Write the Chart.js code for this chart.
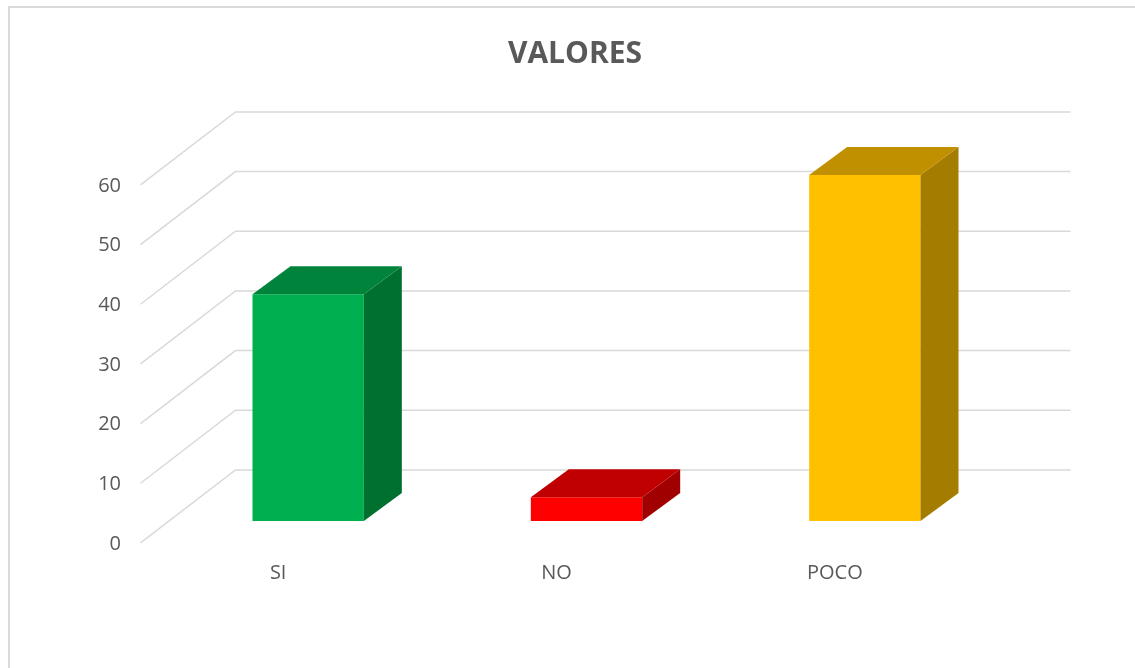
<!DOCTYPE html>
<html>
<head>
<meta charset="utf-8">
<title>VALORES</title>
<script src="https://cdn.jsdelivr.net/npm/chart.js@4.4.1/dist/chart.umd.min.js"></script>
<style>
  html, body { margin: 0; padding: 0; background: #fff; overflow: hidden; }
  canvas { display: block; }
</style>
</head>
<body>
<canvas id="valoresChart" width="1135" height="668"></canvas>
<script>
// Chart data
const categories = ['SI', 'NO', 'POCO'];
const valores = [38, 4, 58];
const yMax = 60;
const yStep = 10;

// Face colours of each bar (front / top / side)
const frontColors = ['#00B050', '#FF0000', '#FFC000'];
const topColors = ['#00843C', '#C00000', '#C09000'];
const sideColors = ['#00702F', '#A00000', '#A37C00'];

// 3D projection: full depth of the floor and depth of the bars (px)
const depth = { dx: 95, dy: -73 };
const barFrontAt = 0.3;   // bar front faces sit 30% into the floor
const barDepth = { dx: 38, dy: -28 };

const gridColor = '#D9D9D9';
const textColor = '#595959';

// Light frame around the chart
const framePlugin = {
    id: 'frame',
    beforeDraw(chart) {
        const ctx = chart.ctx;
        ctx.save();
        ctx.strokeStyle = gridColor;
        ctx.lineWidth = 2;
        ctx.strokeRect(9, 7, 1300, 800);
        ctx.restore();
    }
};

// Back wall and side wall gridlines, drawn from the y scale
const wallsPlugin = {
    id: 'walls',
    beforeDatasetsDraw(chart) {
        const ctx = chart.ctx;
        const yScale = chart.scales.y;
        const area = chart.chartArea;
        const fx = -depth.dx * barFrontAt, fy = -depth.dy * barFrontAt;
        const bx = depth.dx * (1 - barFrontAt), by = depth.dy * (1 - barFrontAt);
        ctx.save();
        ctx.strokeStyle = gridColor;
        ctx.lineWidth = 1.5;
        yScale.ticks.forEach(t => {
            const py = yScale.getPixelForValue(t.value);
            ctx.beginPath();
            ctx.moveTo(area.left + fx, py + fy);
            ctx.lineTo(area.left + bx, py + by);
            ctx.lineTo(area.right + bx, py + by);
            ctx.stroke();
        });
        ctx.restore();
    }
};

// Top and side faces of the bars
const boxPlugin = {
    id: 'box3d',
    afterDatasetsDraw(chart) {
        const ctx = chart.ctx;
        const meta = chart.getDatasetMeta(0);
        ctx.save();
        meta.data.forEach((bar, i) => {
            const left = bar.x - bar.width / 2;
            const right = bar.x + bar.width / 2;
            const top = bar.y;
            const base = bar.base;
            // side
            ctx.fillStyle = sideColors[i];
            ctx.beginPath();
            ctx.moveTo(right, top);
            ctx.lineTo(right + barDepth.dx, top + barDepth.dy);
            ctx.lineTo(right + barDepth.dx, base + barDepth.dy);
            ctx.lineTo(right, base);
            ctx.closePath();
            ctx.fill();
            // top
            ctx.fillStyle = topColors[i];
            ctx.beginPath();
            ctx.moveTo(left, top);
            ctx.lineTo(right, top);
            ctx.lineTo(right + barDepth.dx, top + barDepth.dy);
            ctx.lineTo(left + barDepth.dx, top + barDepth.dy);
            ctx.closePath();
            ctx.fill();
        });
        ctx.restore();
    }
};

const valoresCanvas = document.getElementById('valoresChart').getContext('2d');

new Chart(valoresCanvas, {
    type: 'bar',
    data: {
        labels: categories,
        datasets: [{
            label: 'VALORES',
            data: valores,
            backgroundColor: frontColors,
            borderWidth: 0,
            barPercentage: 0.4,
            categoryPercentage: 1
        }]
    },
    options: {
        responsive: false,
        animation: false,
        devicePixelRatio: 1,
        layout: {
            padding: { left: 15, right: 0, top: 0, bottom: 0 }
        },
        plugins: {
            legend: { display: false },
            tooltip: { enabled: false },
            title: {
                display: true,
                text: 'VALORES',
                color: textColor,
                font: { family: 'Open Sans', size: 30, weight: 'bold' },
                padding: { top: 36, bottom: 91 }
            }
        },
        scales: {
            x: {
                grid: { display: false, drawTicks: false },
                border: { display: false },
                ticks: {
                    color: textColor,
                    font: { family: 'Open Sans', size: 20 },
                    padding: 40,
                    labelOffset: -30,
                    maxRotation: 0
                },
                afterFit(scale) { scale.height = 147; }
            },
            y: {
                min: 0,
                max: yMax,
                grid: { display: false, drawTicks: false },
                border: { display: false },
                ticks: {
                    stepSize: yStep,
                    color: textColor,
                    font: { family: 'Open Sans', size: 20 },
                    padding: 48,
                    labelOffset: 23
                },
                afterFit(scale) { scale.width = 154; }
            },
            // empty right axis, only reserves the space right of the floor
            yRight: {
                position: 'right',
                display: true,
                grid: { display: false, drawTicks: false },
                border: { display: false },
                ticks: { display: false },
                afterFit(scale) { scale.width = 131; }
            }
        }
    },
    plugins: [framePlugin, wallsPlugin, boxPlugin]
});
</script>
</body>
</html>
